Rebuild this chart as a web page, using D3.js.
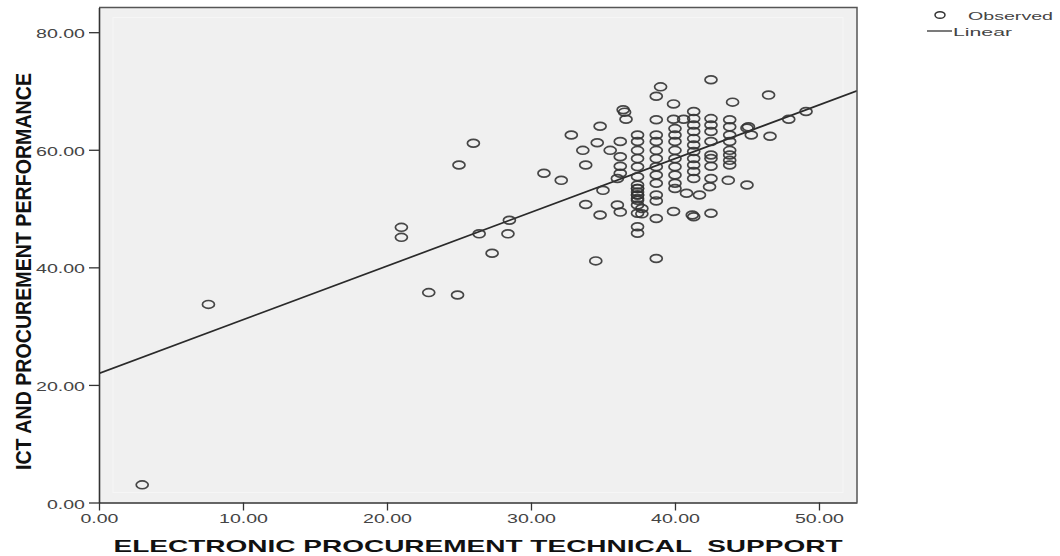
<!DOCTYPE html>
<html>
<head>
<meta charset="utf-8">
<script src="https://cdn.jsdelivr.net/npm/d3@7"></script>
<style>
  html, body { margin: 0; padding: 0; background: #ffffff; }
  svg { display: block; font-family: "Liberation Sans", Arial, sans-serif; }
  text { white-space: pre; }
</style>
</head>
<body>
<svg id="chart" width="1060" height="556"></svg>
<script>
// Observed cases: electronic procurement technical support (x) vs ICT and procurement performance (y)
const support = [
  3.0, 7.6, 22.9, 24.9, 21.0, 21.0, 25.0, 26.0, 26.4, 27.3, 28.5, 28.4,
  30.9, 32.1, 32.8, 33.6, 33.8, 34.6, 34.8, 35.5, 36.4, 36.5, 36.6,
  38.7, 39.0, 39.9, 42.5, 44.0, 46.5, 38.7, 39.9, 40.6,
  45.1, 45.0, 45.3, 46.6, 47.9, 49.1, 45.0, 43.7, 41.7, 40.8,
  35.0, 33.8, 34.8, 36.0, 36.2, 37.7, 37.7, 38.7, 38.7, 39.9, 41.2, 42.5,
  34.5, 38.7, 42.4,
  36.2, 36.2, 36.2, 36.2, 36.0,
  37.4, 37.4, 37.4, 37.4, 37.4, 37.4, 37.4, 37.4, 37.4, 37.4, 37.4, 37.4, 37.4, 37.4, 37.4, 37.4, 37.4, 37.4,
  38.7, 38.7, 38.7, 38.7, 38.7, 38.7, 38.7, 38.7,
  40.0, 40.0, 40.0, 40.0, 40.0, 40.0, 40.0, 40.0, 40.0,
  41.3, 41.3, 41.3, 41.3, 41.3, 41.3, 41.3, 41.3, 41.3, 41.3, 41.3, 41.3,
  42.5, 42.5, 42.5, 42.5, 42.5, 42.5, 42.5, 42.5,
  43.8, 43.8, 43.8, 43.8, 43.8, 43.8, 43.8, 43.8
];
const performance = [
  3.0, 33.7, 35.7, 35.3, 46.8, 45.1, 57.4, 61.1, 45.7, 42.4, 48.0, 45.7,
  56.0, 54.8, 62.5, 59.9, 57.4, 61.2, 64.0, 59.9, 66.8, 66.4, 65.2,
  69.1, 70.7, 67.8, 71.9, 68.1, 69.3, 65.1, 65.2, 65.2,
  63.9, 63.7, 62.5, 62.3, 65.2, 66.5, 54.0, 54.8, 52.3, 52.6,
  53.1, 50.7, 48.9, 50.6, 49.4, 50.0, 49.1, 51.3, 48.3, 49.5, 48.9, 49.2,
  41.1, 41.5, 53.7,
  61.4, 58.8, 57.2, 56.0, 55.1,
  62.5, 61.4, 59.9, 58.5, 57.1, 55.4, 54.0, 53.4, 53.4, 52.8, 52.3, 52.3, 51.7, 51.4, 50.6, 49.2, 46.9, 45.8,
  62.5, 61.4, 59.9, 58.5, 57.1, 55.7, 54.3, 52.3,
  63.6, 62.5, 61.4, 59.9, 58.5, 57.1, 55.7, 54.3, 53.4,
  66.5, 65.3, 64.2, 63.1, 61.9, 60.8, 59.7, 58.5, 57.4, 56.3, 55.1, 48.6,
  65.3, 64.2, 63.1, 61.4, 59.1, 58.5, 57.2, 55.1,
  65.1, 63.9, 62.5, 61.4, 59.9, 59.1, 58.2, 57.4
];

// Linear fit: performance = intercept + slope * support
const fitIntercept = 21.96;
const fitSlope = 0.913;

const xTicks = [0, 10, 20, 30, 40, 50];
const yTicks = [0, 20, 40, 60, 80];
const xDomain = [0, 52.64];
const yDomain = [0, 84.2];

const xTitle = "ELECTRONIC PROCUREMENT TECHNICAL  SUPPORT";
const yTitle = "ICT AND PROCUREMENT PERFORMANCE";
const legendLabels = ["Observed", "Linear"];

const svg = d3.select("#chart");
const plotLeft = 99, plotRight = 857, plotTop = 7.5, plotBottom = 502.5;

const x = d3.scaleLinear().domain(xDomain).range([plotLeft, plotRight]);
const y = d3.scaleLinear().domain(yDomain).range([plotBottom, plotTop]);

// plot background
svg.append("rect")
  .attr("x", plotLeft).attr("y", plotTop)
  .attr("width", plotRight - plotLeft).attr("height", plotBottom - plotTop)
  .attr("fill", "#f0f0f0");
// faint inner data region
svg.append("rect")
  .attr("x", plotLeft + 14).attr("y", plotTop + 10)
  .attr("width", plotRight - plotLeft - 28).attr("height", plotBottom - plotTop - 20)
  .attr("fill", "none").attr("stroke", "#f6f6f6").attr("stroke-width", 1);

svg.append("clipPath").attr("id", "clip")
  .append("rect").attr("x", plotLeft).attr("y", plotTop)
  .attr("width", plotRight - plotLeft).attr("height", plotBottom - plotTop);
const plot = svg.append("g");

// fit line
plot.append("line")
  .attr("clip-path", "url(#clip)")
  .attr("x1", x(xDomain[0])).attr("y1", y(fitIntercept + fitSlope * xDomain[0]))
  .attr("x2", x(xDomain[1])).attr("y2", y(fitIntercept + fitSlope * xDomain[1]))
  .attr("stroke", "#2a2a2a").attr("stroke-width", 1.7);

// observed markers
plot.selectAll("ellipse.obs")
  .data(d3.range(support.length))
  .join("ellipse")
  .attr("class", "obs")
  .attr("cx", i => x(support[i]))
  .attr("cy", i => y(performance[i]))
  .attr("rx", 6).attr("ry", 3.9)
  .attr("fill", "none")
  .attr("stroke", "#333")
  .attr("stroke-width", 1.7)
  .attr("stroke-opacity", 0.9);

// frame top and right
svg.append("path")
  .attr("d", `M${plotLeft},${plotTop}H${plotRight}V${plotBottom}`)
  .attr("fill", "none").attr("stroke", "#555").attr("stroke-width", 1.5);

// axes
const fmt = d3.format(".2f");
const xAxis = svg.append("g")
  .attr("transform", `translate(0,${plotBottom})`)
  .call(d3.axisBottom(x).tickValues(xTicks).tickFormat(fmt).tickSize(8).tickSizeOuter(0).tickPadding(3.5));
const yAxis = svg.append("g")
  .attr("transform", `translate(${plotLeft},0)`)
  .call(d3.axisLeft(y).tickValues(yTicks).tickFormat(fmt).tickSize(10).tickSizeOuter(0).tickPadding(4));

[xAxis, yAxis].forEach(g => {
  g.select(".domain").attr("stroke", "#333").attr("stroke-width", 1.6);
  g.selectAll(".tick line").attr("stroke", "#333").attr("stroke-width", 1.3);
  g.selectAll(".tick text")
    .attr("font-family", "'Liberation Sans', Arial, sans-serif")
    .attr("font-size", 12.5)
    .attr("fill", "#444")
    .attr("lengthAdjust", "spacingAndGlyphs")
    .attr("textLength", d => fmt(d).length === 4 ? 38 : 49);
});
yAxis.selectAll(".tick text").attr("dy", "0.45em");

// axis titles
svg.append("text")
  .attr("x", (plotLeft + plotRight) / 2).attr("y", 551.7)
  .attr("text-anchor", "middle")
  .attr("font-size", 16.3).attr("font-weight", "bold").attr("fill", "#111")
  .attr("lengthAdjust", "spacingAndGlyphs").attr("textLength", 729)
  .text(xTitle);

svg.append("text")
  .attr("transform", "translate(31,271.5) rotate(-90)")
  .attr("text-anchor", "middle")
  .attr("font-size", 22).attr("font-weight", "bold").attr("fill", "#111")
  .attr("lengthAdjust", "spacingAndGlyphs").attr("textLength", 397)
  .text(yTitle);

// legend
const legend = svg.append("g");
legend.append("ellipse")
  .attr("cx", 940).attr("cy", 15).attr("rx", 5).attr("ry", 3.3)
  .attr("fill", "none").attr("stroke", "#333").attr("stroke-width", 1.5);
legend.append("text")
  .attr("x", 968).attr("y", 19.5)
  .attr("font-size", 11.5).attr("fill", "#444")
  .attr("lengthAdjust", "spacingAndGlyphs").attr("textLength", 85)
  .text(legendLabels[0]);
legend.append("line")
  .attr("x1", 927).attr("x2", 952).attr("y1", 31).attr("y2", 31)
  .attr("stroke", "#333").attr("stroke-width", 1.3);
legend.append("text")
  .attr("x", 953).attr("y", 35.5)
  .attr("font-size", 11.5).attr("fill", "#444")
  .attr("lengthAdjust", "spacingAndGlyphs").attr("textLength", 59)
  .text(legendLabels[1]);
</script>
</body>
</html>
